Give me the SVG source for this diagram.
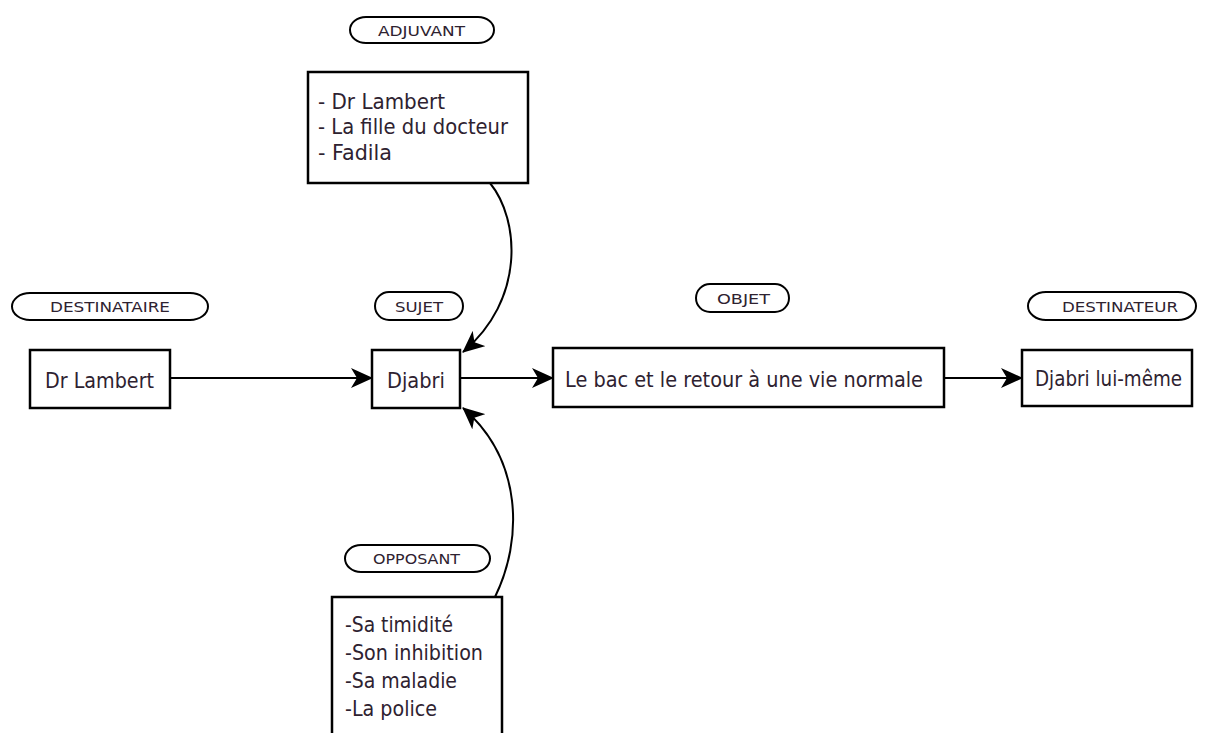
<svg xmlns="http://www.w3.org/2000/svg" width="1208" height="733" viewBox="0 0 1208 733">
<style>
  .box { fill: #ffffff; stroke: #000000; stroke-width: 2.5; }
  .pill { fill: #ffffff; stroke: #000000; stroke-width: 2; }
  .txt { font-family: "DejaVu Sans", "Liberation Sans", sans-serif; font-size: 21px; fill: #2e2230; }
  .lbl { font-family: "DejaVu Sans", "Liberation Sans", sans-serif; font-size: 14px; fill: #2e2230; }
  .conn { fill: none; stroke: #000000; stroke-width: 2; }
</style>
<defs>
  <marker id="ah" viewBox="0 0 22 20" refX="21" refY="10" markerWidth="22" markerHeight="20" markerUnits="userSpaceOnUse" orient="auto">
    <path d="M0,0 L22,10 L0,20 L6,10 z" fill="#000000"/>
  </marker>
</defs>
<rect width="1208" height="733" fill="#ffffff"/>

<g id="connectors">
  <path class="conn" d="M170,378 L372,378" marker-end="url(#ah)"/>
  <path class="conn" d="M460,378 L553,378" marker-end="url(#ah)"/>
  <path class="conn" d="M944,378 L1022,378" marker-end="url(#ah)"/>
  <path class="conn" d="M490,183 C520,220 525,300 463,352" marker-end="url(#ah)"/>
  <path class="conn" d="M495,597 C523,540 523,460 463,408" marker-end="url(#ah)"/>
</g>

<g id="adjuvant-label">
  <rect class="pill" x="350" y="17" width="144" height="26" rx="16" ry="13"/>
  <text class="lbl" x="378" y="36" textLength="87" lengthAdjust="spacingAndGlyphs">ADJUVANT</text>
</g>
<g id="adjuvant">
  <rect class="box" x="308" y="72" width="220" height="111"/>
  <text class="txt" x="318" y="109" textLength="127" lengthAdjust="spacingAndGlyphs">- Dr Lambert</text>
  <text class="txt" x="318" y="134" textLength="190" lengthAdjust="spacingAndGlyphs">- La fille du docteur</text>
  <text class="txt" x="318" y="160" textLength="74" lengthAdjust="spacingAndGlyphs">- Fadila</text>
</g>

<g id="destinataire-label">
  <rect class="pill" x="12" y="293" width="196" height="27" rx="18" ry="13.5"/>
  <text class="lbl" x="50" y="312" textLength="120" lengthAdjust="spacingAndGlyphs">DESTINATAIRE</text>
</g>
<g id="destinataire">
  <rect class="box" x="30" y="350" width="140" height="58"/>
  <text class="txt" x="45" y="388" textLength="109" lengthAdjust="spacingAndGlyphs">Dr Lambert</text>
</g>

<g id="sujet-label">
  <rect class="pill" x="375" y="292" width="88" height="28" rx="14" ry="14"/>
  <text class="lbl" x="395" y="312" textLength="48" lengthAdjust="spacingAndGlyphs">SUJET</text>
</g>
<g id="sujet">
  <rect class="box" x="372" y="350" width="88" height="58"/>
  <text class="txt" x="387" y="388" textLength="58" lengthAdjust="spacingAndGlyphs">Djabri</text>
</g>

<g id="objet-label">
  <rect class="pill" x="696" y="284" width="93" height="28" rx="14" ry="14"/>
  <text class="lbl" x="717" y="304" textLength="53" lengthAdjust="spacingAndGlyphs">OBJET</text>
</g>
<g id="objet">
  <rect class="box" x="553" y="348" width="391" height="59"/>
  <text class="txt" x="565" y="387" textLength="358" lengthAdjust="spacingAndGlyphs">Le bac et le retour à une vie normale</text>
</g>

<g id="destinateur-label">
  <rect class="pill" x="1028" y="292" width="168" height="28" rx="18" ry="14"/>
  <text class="lbl" x="1062" y="312" textLength="116" lengthAdjust="spacingAndGlyphs">DESTINATEUR</text>
</g>
<g id="destinateur">
  <rect class="box" x="1022" y="350" width="170" height="56"/>
  <text class="txt" x="1035" y="386" textLength="147" lengthAdjust="spacingAndGlyphs">Djabri lui-même</text>
</g>

<g id="opposant-label">
  <rect class="pill" x="345" y="545" width="145" height="27" rx="16" ry="13.5"/>
  <text class="lbl" x="373" y="564" textLength="87" lengthAdjust="spacingAndGlyphs">OPPOSANT</text>
</g>
<g id="opposant">
  <rect class="box" x="332" y="597" width="170" height="150"/>
  <text class="txt" x="345" y="632" textLength="108" lengthAdjust="spacingAndGlyphs">-Sa timidité</text>
  <text class="txt" x="345" y="660" textLength="138" lengthAdjust="spacingAndGlyphs">-Son inhibition</text>
  <text class="txt" x="345" y="688" textLength="112" lengthAdjust="spacingAndGlyphs">-Sa maladie</text>
  <text class="txt" x="345" y="716" textLength="92" lengthAdjust="spacingAndGlyphs">-La police</text>
</g>
</svg>
